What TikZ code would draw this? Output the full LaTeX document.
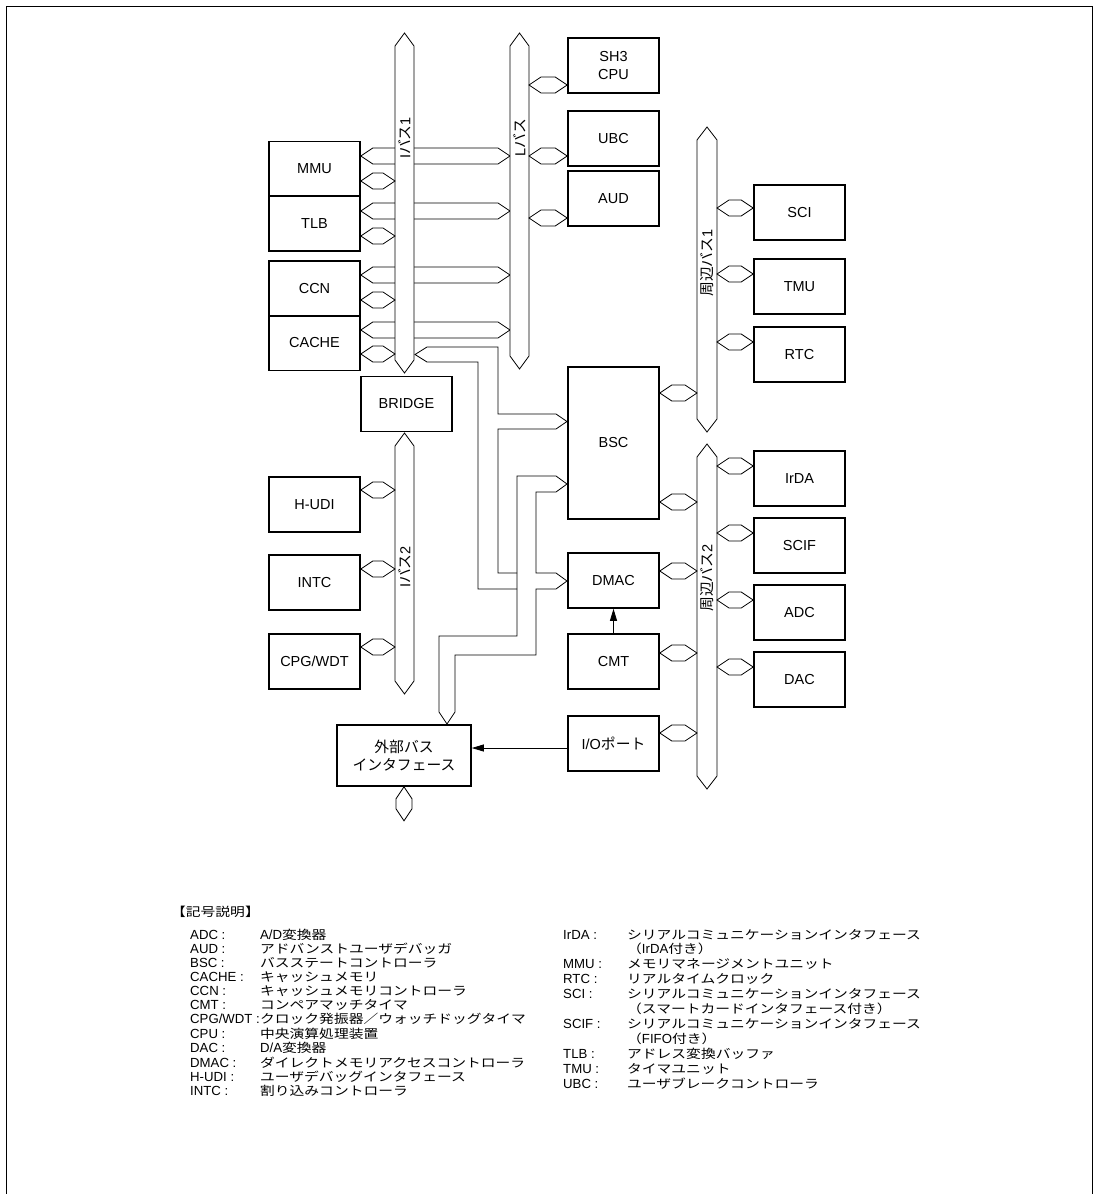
\documentclass[tikz,border=0pt]{standalone}
\usepackage{fontspec}
\setmainfont{Liberation Sans}
\newfontfamily\jp{Noto Sans CJK JP}
\newfontfamily\jpl[FakeStretch=1.2]{Noto Sans CJK JP}
\usetikzlibrary{arrows.meta,calc,positioning}

% texte japonais
\newcommand\ja[1]{{\jp\fontsize{14.8}{17.5}\selectfont #1}}
% texte japonais de la legende
\newcommand\jl[1]{{\jpl\fontsize{12.3}{13.5}\selectfont #1}}
% petit bus horizontal (hexagone)
\newcommand\hstub[2]{\draw[bus] #1 -- ($#1+(12,-8)$) -- ($#2+(-12,-8)$) -- #2 -- ($#2+(-12,8)$) -- ($#1+(12,8)$) -- cycle;}
% bus vertical : x, haut, bas, demi-largeur
\newcommand\vbus[4]{\draw[bus] (#1,#2) -- (#1+#4,#2+13) -- (#1+#4,#3-13) -- (#1,#3) -- (#1-#4,#3-13) -- (#1-#4,#2+13) -- cycle;}

\begin{document}
\begin{tikzpicture}[
		x=1pt, y=-1pt,
		bloc/.style={draw, line width=1.6pt, minimum width=91pt, minimum height=55pt, inner sep=0pt, align=center, font=\fontsize{14.5}{17.5}\selectfont},
		bus/.style={draw, line width=0.8pt, fill=white},
		buslabel/.style={rotate=90, inner sep=0pt, font=\fontsize{14.5}{17.5}\selectfont},
		fleche/.style={-{Triangle[length=12pt,width=7pt]}, line width=0.8pt},
		legende/.style={inner sep=0pt, anchor=base west, font=\fontsize{13.2}{13.5}\selectfont}
		]
		\useasboundingbox (0,0) rectangle (1093,1194);
		
		% Le cadre
		\draw[line width=1.4pt] (6.5,1194) -- (6.5,6.5) -- (1092.3,6.5) -- (1092.3,1194);
		
		% Les blocs
		\node[bloc] (cpu) at (613.5,65.5) {SH3\\CPU};
		\node[bloc] (ubc) at (613.5,138.5) {UBC};
		\node[bloc] (aud) at (613.5,198.5) {AUD};
		\node[bloc] (mmu) at (314.5,169) {MMU};
		\node[bloc] (tlb) at (314.5,223.5) {TLB};
		\node[bloc] (ccn) at (314.5,288.5) {CCN};
		\node[bloc] (cache) at (314.5,343) {CACHE};
		\node[bloc] (bridge) at (406.5,404) {BRIDGE};
		\node[bloc] (hudi) at (314.5,504.5) {H-UDI};
		\node[bloc] (intc) at (314.5,582.5) {INTC};
		\node[bloc] (cpg) at (314.5,661.5) {CPG/WDT};
		\node[bloc, minimum width=134pt, minimum height=61pt] (ext) at (404,755.5) {\ja{外部バス}\\\ja{インタフェース}};
		\node[bloc, minimum height=152pt] (bsc) at (613.5,443) {BSC};
		\node[bloc] (dmac) at (613.5,580.5) {DMAC};
		\node[bloc] (cmt) at (613.5,661.5) {CMT};
		\node[bloc] (io) at (613.5,743.5) {I/O\ja{ポート}};
		\node[bloc] (sci) at (799.5,212.5) {SCI};
		\node[bloc] (tmu) at (799.5,286.5) {TMU};
		\node[bloc] (rtc) at (799.5,354.5) {RTC};
		\node[bloc] (irda) at (799.5,478.5) {IrDA};
		\node[bloc] (scif) at (799.5,545.5) {SCIF};
		\node[bloc] (adc) at (799.5,612.5) {ADC};
		\node[bloc] (dac) at (799.5,679.5) {DAC};
		
		% Les bords des bus
		\coordinate (ib1w) at (395,0);
		\coordinate (ib1e) at (414,0);
		\coordinate (lbw) at (510,0);
		\coordinate (lbe) at (529,0);
		\coordinate (pbw) at (697,0);
		\coordinate (pbe) at (717,0);
		
		% Liaisons vers la L-bus (sous la I-bus1)
		\hstub{(mmu.east |- 0,156)}{(lbw |- 0,156)}
		\hstub{(tlb.east |- 0,211)}{(lbw |- 0,211)}
		\hstub{(ccn.east |- 0,275)}{(lbw |- 0,275)}
		\hstub{(cache.east |- 0,330)}{(lbw |- 0,330)}
		
		% Les bus
		\vbus{404.5}{33}{373}{9.5}
		\vbus{519.5}{33}{369}{9.5}
		\vbus{404.5}{433}{694}{9.5}
		\vbus{707}{127}{432}{10}
		\vbus{707}{444}{789}{10}
		
		% Liaisons courtes
		\hstub{(lbe |- 0,85)}{(cpu.west |- 0,85)}
		\hstub{(lbe |- 0,156)}{(ubc.west |- 0,156)}
		\hstub{(lbe |- 0,218)}{(aud.west |- 0,218)}
		\hstub{(mmu.east |- 0,181)}{(ib1w |- 0,181)}
		\hstub{(tlb.east |- 0,236)}{(ib1w |- 0,236)}
		\hstub{(ccn.east |- 0,300)}{(ib1w |- 0,300)}
		\hstub{(cache.east |- 0,354)}{(ib1w |- 0,354)}
		\hstub{(hudi.east |- 0,490)}{(ib1w |- 0,490)}
		\hstub{(intc.east |- 0,569)}{(ib1w |- 0,569)}
		\hstub{(cpg.east |- 0,647)}{(ib1w |- 0,647)}
		\hstub{(pbe |- 0,208)}{(sci.west |- 0,208)}
		\hstub{(pbe |- 0,274)}{(tmu.west |- 0,274)}
		\hstub{(pbe |- 0,342)}{(rtc.west |- 0,342)}
		\hstub{(bsc.east |- 0,393)}{(pbw |- 0,393)}
		\hstub{(pbe |- 0,466)}{(irda.west |- 0,466)}
		\hstub{(pbe |- 0,533)}{(scif.west |- 0,533)}
		\hstub{(pbe |- 0,600)}{(adc.west |- 0,600)}
		\hstub{(pbe |- 0,667)}{(dac.west |- 0,667)}
		\hstub{(bsc.east |- 0,502)}{(pbw |- 0,502)}
		\hstub{(dmac.east |- 0,571)}{(pbw |- 0,571)}
		\hstub{(cmt.east |- 0,653)}{(pbw |- 0,653)}
		\hstub{(io.east |- 0,733)}{(pbw |- 0,733)}
		\draw[bus] (ext.south) -- ++(8,12) -- ++(0,10) -- ++(-8,12) -- ++(-8,-12) -- ++(0,-10) -- cycle;
		
		% Bus interne vers BSC, DMAC et interface externe
		\draw[bus, fill=none] (517,573) -- (498,573) -- (498,429) -- (556,429) -- (567,421.5) -- (556,414) -- (498,414) -- (498,347) -- (427,347) -- (415,354.5) -- (427,362) -- (478,362) -- (478,589) -- (517,589);
		\draw[bus, fill=none] (556,476) -- (517,476) -- (517,636) -- (439,636) -- (439,712) -- (447,724) -- (455,712) -- (455,655) -- (536,655) -- (536,589) -- (556,589) -- (567,581) -- (556,573) -- (536,573) -- (536,492) -- (556,492) -- (567,484) -- cycle;
		
		% Les noms des bus
		\node[buslabel] (nib1) at (404.5,138) {I\ja{バス}1};
		\node[buslabel] (nlb) at (519.5,138) {L\ja{バス}};
		\node[buslabel] (nib2) at (404.5,567) {I\ja{バス}2};
		\node[buslabel] (npb1) at (707,263) {\ja{周辺バス}1};
		\node[buslabel] (npb2) at (707,578) {\ja{周辺バス}2};
		
		% Les fleches
		\draw[fleche] (cmt.north) -- (dmac.south);
		\coordinate (iof) at ([yshift=-4.5pt]io.west);
		\draw[fleche] (iof) -- (iof -| ext.east);
		
		% Legende
		\node[legende] (titre) at (171,916) {\jl{【記号説明】}};
		\node[legende] (legg) at (190,939) {\begin{tabular}[t]{@{}p{70pt}@{}l@{}}
				ADC : & A/D\jl{変換器}\\
				AUD : & \jl{アドバンストユーザデバッガ}\\
				BSC : & \jl{バスステートコントローラ}\\
				CACHE : & \jl{キャッシュメモリ}\\
				CCN : & \jl{キャッシュメモリコントローラ}\\
				CMT : & \jl{コンペアマッチタイマ}\\
				CPG/WDT : & \jl{クロック発振器／ウォッチドッグタイマ}\\
				CPU : & \jl{中央演算処理装置}\\
				DAC : & D/A\jl{変換器}\\
				DMAC : & \jl{ダイレクトメモリアクセスコントローラ}\\
				H-UDI : & \jl{ユーザデバッグインタフェース}\\
				INTC : & \jl{割り込みコントローラ}
			\end{tabular}};
		\node[legende, font=\fontsize{13.2}{14.85}\selectfont] (legd) at (563,939) {\begin{tabular}[t]{@{}p{64pt}@{}l@{}}
				IrDA : & \jl{シリアルコミュニケーションインタフェース}\\
				& \jl{（}IrDA\jl{付き）}\\
				MMU : & \jl{メモリマネージメントユニット}\\
				RTC : & \jl{リアルタイムクロック}\\
				SCI : & \jl{シリアルコミュニケーションインタフェース}\\
				& \jl{（スマートカードインタフェース付き）}\\
				SCIF : & \jl{シリアルコミュニケーションインタフェース}\\
				& \jl{（}FIFO\jl{付き）}\\
				TLB : & \jl{アドレス変換バッファ}\\
				TMU : & \jl{タイマユニット}\\
				UBC : & \jl{ユーザブレークコントローラ}
			\end{tabular}};
	\end{tikzpicture}
\end{document}
